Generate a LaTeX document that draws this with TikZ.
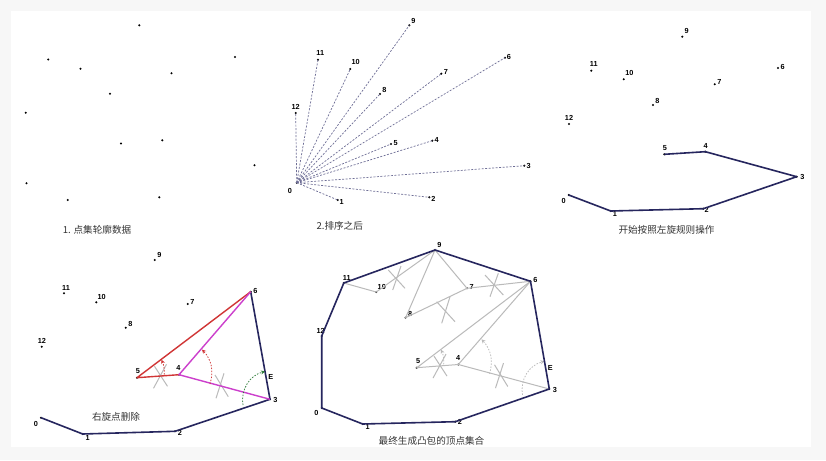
\documentclass[tikz,border=0pt]{standalone}
\usepackage{fontspec}
\setmainfont{Liberation Sans}
\newfontfamily\cjk{Noto Sans CJK SC}
\usetikzlibrary{arrows.meta,calc}
\definecolor{bgout}{HTML}{F7F7F7}
\definecolor{hullc}{HTML}{26265E}
\definecolor{redc}{HTML}{D03535}
\definecolor{magc}{HTML}{CC3FCC}
\definecolor{grayc}{HTML}{BABABA}
\definecolor{dashc}{HTML}{6E6E96}
\definecolor{greenc}{HTML}{2E7D3A}
\definecolor{capc}{HTML}{333333}
\tikzset{
  ptdot/.style={circle,fill=black,inner sep=0pt,minimum size=2.3pt},
  ptlabel/.style={font=\fontsize{7.3}{7.3}\selectfont\bfseries,inner sep=0pt},
  captext/.style={font=\cjk\fontsize{9.6}{10}\selectfont,text=capc,inner sep=0pt},
  hullline/.style={draw=hullc,line width=1.6pt,line join=round},
  redline/.style={draw=redc,line width=1.4pt,line join=round},
  magline/.style={draw=magc,line width=1.4pt,line join=round},
  grayline/.style={draw=grayc,line width=1pt},
  dashline/.style={draw=dashc,line width=0.7pt,dash pattern=on 2pt off 1.5pt},
  xmarkline/.style={draw=grayc,line width=1pt},
  arcline/.style={line width=0.75pt,dash pattern=on 1.5pt off 1.5pt,-{Stealth[length=4pt,width=4pt]}},
}
\newcommand\placepts[2]{%
  \foreach \n/\x/\y/\lx/\ly in {#2} {%
    \node[ptdot] (#1\n) at (\x,\y) {};
    \node[ptlabel] (#1l\n) at (\lx,\ly) {\n};
  }}
\begin{document}
\begin{tikzpicture}[x=1pt,y=-1pt]
\useasboundingbox (0,0) rectangle (826,460);
\fill[bgout] (0,0) rectangle (826,460);
\fill[white] (11,11) rectangle (811,447);

% ---------- panel 1 ----------
\foreach \n/\x/\y in {0/26.5/183.2,1/67.7/200,2/159.3/197.3,3/254.5/165.3,4/162.3/140.3,
  5/121/143.5,6/235/57,7/171.5/73.3,8/110/93.8,9/139.3/25.3,10/80.5/68.7,11/48.2/59.5,12/25.8/112.7}
  {\node[ptdot] (a\n) at (\x,\y) {};}
\node[captext] (capa) at (97,229.5) {1. 点集轮廓数据};

% ---------- panel 2 ----------
\placepts{b}{0/296.7/182.7/290/190.7, 1/337.7/200/341.7/202.3, 2/429.3/197.3/433.3/198.7,
  3/524.3/165.7/528.7/165.7, 4/432.3/140.7/436.7/139.7, 5/391/144/395.7/142.7,
  6/505/57.7/509/56.7, 7/441.3/73.7/446/71.7, 8/380/94/384.3/90.3,
  9/409.3/25.3/413.3/20.7, 10/350.3/69/355.7/62.3, 11/318/59.7/320.3/53.3,
  12/295.7/113/295.7/107.3}
\foreach \n in {1,...,12} {\draw[dashline] (b0.center) -- (b\n.center);}
\node[captext] (capb) at (339.7,226) {2.排序之后};

% ---------- panel 3 ----------
\placepts{c}{0/568.7/195/563.7/201, 1/610.7/211/615/214.3, 2/703.3/208.7/706.7/210,
  3/796.7/176.7/802.3/176.7, 4/705.3/151.7/705.7/145.7, 5/664.3/154.3/665/148,
  6/778/68/782.7/67, 7/714.7/84.3/719.3/82, 8/653/105/657.3/101,
  9/682.3/36.7/686.7/31, 10/623.7/79.3/629.3/73, 11/591.3/70.7/593.7/64.3,
  12/569/124/569/117.7}
\draw[hullline] (c0.center) -- (c1.center) -- (c2.center) -- (c3.center) -- (c4.center) -- (c5.center);
\node[captext] (capc) at (666.5,230) {开始按照左旋规则操作};

% ---------- panel 4 ----------
\placepts{d}{0/41/417.7/36/423.7, 1/82.7/434/87.7/437.7, 2/175/431.3/180/432.7,
  3/270/399.3/275.3/400, 4/179/374.7/178.3/367.7, 5/137/377.7/138/371.3,
  6/250.7/291.7/255.3/290.7, 7/187.7/304/192.3/302.3, 8/125.7/327.7/130.3/324,
  9/154.7/260/159.3/254.7, 10/96.3/302.3/101.7/296.7, 11/64/293.3/66/287.7,
  12/41.7/346.7/42/340.7}
\node[ptlabel] (dE) at (270.7,377.3) {E};
% X marks
\draw[xmarkline] (154.5,366.3) -- (167.5,386.3);
\draw[xmarkline] (166.5,364.3) -- (153.5,388.3);
\draw[xmarkline] (215,375) -- (228.3,396.7);
\draw[xmarkline] (224,373.3) -- (216,398.3);
% hull and candidate lines
\draw[hullline] (d0.center) -- (d1.center) -- (d2.center) -- (d3.center) -- (d6.center);
\draw[redline] (d6.center) -- (d5.center) -- (d4.center);
\draw[magline] (d6.center) -- (d4.center) -- (d3.center);
% rotation arcs
\coordinate (da1s) at (164.3,374.5);
\coordinate (da1e) at (161.5,359.8);
\coordinate (da2s) at (210,384);
\coordinate (da2e) at (202,349.5);
\coordinate (da3s) at (243,405);
\coordinate (da3e) at (265,371.5);
\draw[arcline,redc] (da1s) to[bend right=13] (da1e);
\draw[arcline,redc] (da2s) to[bend right=30] (da2e);
\draw[arcline,greenc] (da3s) to[bend left=43] (da3e);
\node[captext] (capd) at (116,417) {右旋点删除};

% ---------- panel 5 ----------
\placepts{e}{0/321.7/408/316.3/413, 1/362.7/424/367.7/427.3, 2/455.3/421.7/460/422.3,
  3/549.3/389/555/389.7, 4/458.3/364.5/458.2/358, 5/416.8/367.7/418.2/361.3,
  6/530.5/281.3/535.5/280.3, 7/467/288.3/471.7/286.8, 8/405.6/317.7/410.2/314,
  9/435/250/439.3/244.7, 10/376.2/292/381.8/286.7, 11/343.8/283/346.7/277.7,
  12/321.7/336/320.7/330.7}
\node[ptlabel] (eE) at (550.3,367.5) {E};
\draw[grayline] (e11.center) -- (e10.center) -- (e9.center) -- (e8.center) -- (e7.center) -- (e6.center);
\draw[grayline] (e9.center) -- (e7.center);
\draw[grayline] (e6.center) -- (e5.center) -- (e4.center) -- (e3.center);
\draw[grayline] (e6.center) -- (e4.center);
% X marks
\draw[xmarkline] (388.3,270) -- (405,288.3);
\draw[xmarkline] (401,266) -- (392.7,290);
\draw[xmarkline] (436.7,301.7) -- (455,321.7);
\draw[xmarkline] (450,296.7) -- (441.7,323.3);
\draw[xmarkline] (485,275) -- (503.3,295);
\draw[xmarkline] (498.3,273.3) -- (490,296.7);
\draw[xmarkline] (434,356.1) -- (447,376.1);
\draw[xmarkline] (446,354.1) -- (433,378.1);
\draw[xmarkline] (494.5,364.8) -- (507.8,386.5);
\draw[xmarkline] (503.5,363.1) -- (495.5,388.1);
% arcs
\coordinate (ea1s) at (443.8,364.3);
\coordinate (ea1e) at (441,349.6);
\coordinate (ea2s) at (489.5,373.8);
\coordinate (ea2e) at (481.5,339.3);
\coordinate (ea3s) at (522.5,394.8);
\coordinate (ea3e) at (544.5,361.3);
\draw[arcline,grayc] (ea1s) to[bend right=13] (ea1e);
\draw[arcline,grayc] (ea2s) to[bend right=30] (ea2e);
\draw[arcline,grayc] (ea3s) to[bend left=43] (ea3e);
% hull
\draw[hullline] (e0.center) -- (e1.center) -- (e2.center) -- (e3.center) -- (e6.center)
  -- (e9.center) -- (e11.center) -- (e12.center) -- cycle;
\node[captext] (cape) at (431.5,440.7) {最终生成凸包的顶点集合};
\end{tikzpicture}
\end{document}
